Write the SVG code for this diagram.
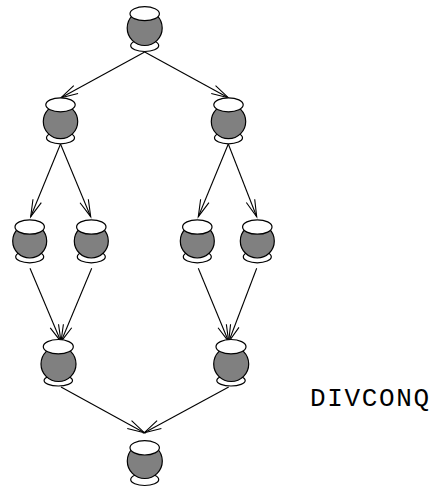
<svg xmlns="http://www.w3.org/2000/svg" width="430" height="487" viewBox="0 0 430 487">
<defs>
<style>
.e{fill:#fff;stroke:#000;stroke-width:1.2}
.b{fill:#808080;stroke:#000;stroke-width:1.2}
.c{stroke:#000;stroke-width:1.1;fill:none;marker-end:url(#ah)}
.t{font-family:"Courier New","Nimbus Mono PS","Liberation Mono",monospace;font-size:26px;fill:#000}
</style>
<marker id="ah" markerUnits="userSpaceOnUse" markerWidth="40" markerHeight="40" refX="0" refY="0" orient="auto" overflow="visible">
<path d="M-17,-4.5 L0,0 L-17,4.5" fill="none" stroke="#000" stroke-width="1.1"/>
</marker>
</defs>
<rect width="430" height="487" fill="#fff"/>
<g id="connectors">
<line class="c" x1="144.7" y1="52" x2="61" y2="97.7"/>
<line class="c" x1="144.7" y1="52" x2="228.3" y2="97.7"/>
<line class="c" x1="60.5" y1="144" x2="30.7" y2="216.7"/>
<line class="c" x1="60.5" y1="144" x2="90.7" y2="216.7"/>
<line class="c" x1="228.3" y1="144" x2="198.3" y2="216.7"/>
<line class="c" x1="228.3" y1="144" x2="256.7" y2="216.7"/>
<line class="c" x1="30" y1="268.3" x2="61" y2="341.7"/>
<line class="c" x1="91.7" y1="268.3" x2="61" y2="341.7"/>
<line class="c" x1="198.3" y1="268.3" x2="228.7" y2="341.7"/>
<line class="c" x1="256.7" y1="268.3" x2="228.7" y2="341.7"/>
<line class="c" x1="61" y1="387" x2="144.3" y2="432.7"/>
<line class="c" x1="228.7" y1="387" x2="144.3" y2="432.7"/>
</g>
<g id="n1">
<ellipse class="e" cx="144.7" cy="45.5" rx="14" ry="6"/>
<circle class="b" cx="144.7" cy="28" r="17.5"/>
<ellipse class="e" cx="144.7" cy="13.7" rx="14.7" ry="7"/>
</g>
<g id="n2a">
<ellipse class="e" cx="60.5" cy="137.8" rx="14" ry="6"/>
<circle class="b" cx="60.5" cy="121.5" r="17.2"/>
<ellipse class="e" cx="60.5" cy="104.8" rx="14.7" ry="7"/>
</g>
<g id="n2b">
<ellipse class="e" cx="228.5" cy="137.8" rx="14" ry="6"/>
<circle class="b" cx="228.5" cy="121.5" r="17.2"/>
<ellipse class="e" cx="228.5" cy="104.8" rx="14.7" ry="7"/>
</g>
<g id="n3a">
<ellipse class="e" cx="29.7" cy="256.8" rx="14" ry="6"/>
<circle class="b" cx="29.7" cy="241" r="17"/>
<ellipse class="e" cx="29.7" cy="227" rx="14.7" ry="7.2"/>
</g>
<g id="n3b">
<ellipse class="e" cx="91.3" cy="256.8" rx="14" ry="6"/>
<circle class="b" cx="91.3" cy="241" r="17"/>
<ellipse class="e" cx="91.3" cy="227" rx="14.7" ry="7.2"/>
</g>
<g id="n3c">
<ellipse class="e" cx="197.3" cy="256.8" rx="14" ry="6"/>
<circle class="b" cx="197.3" cy="241" r="17"/>
<ellipse class="e" cx="197.3" cy="227" rx="14.7" ry="7.2"/>
</g>
<g id="n3d">
<ellipse class="e" cx="257.3" cy="256.8" rx="14" ry="6"/>
<circle class="b" cx="257.3" cy="241" r="17"/>
<ellipse class="e" cx="257.3" cy="227" rx="14.7" ry="7.2"/>
</g>
<g id="n4a">
<ellipse class="e" cx="58.3" cy="380.5" rx="14.2" ry="5.5"/>
<circle class="b" cx="58.5" cy="364" r="17.5"/>
<ellipse class="e" cx="58.3" cy="346.7" rx="15" ry="7.2"/>
</g>
<g id="n4b">
<ellipse class="e" cx="231" cy="380.5" rx="14.2" ry="5.5"/>
<circle class="b" cx="231.2" cy="364" r="17.5"/>
<ellipse class="e" cx="231" cy="346.7" rx="15" ry="7.2"/>
</g>
<g id="n5">
<ellipse class="e" cx="144.7" cy="479.5" rx="14" ry="6"/>
<circle class="b" cx="144.8" cy="461" r="17.5"/>
<ellipse class="e" cx="144.7" cy="447.8" rx="14.7" ry="7.2"/>
</g>
<text class="t" x="310" y="406" textLength="119" lengthAdjust="spacing">DIVCONQ</text>
</svg>
